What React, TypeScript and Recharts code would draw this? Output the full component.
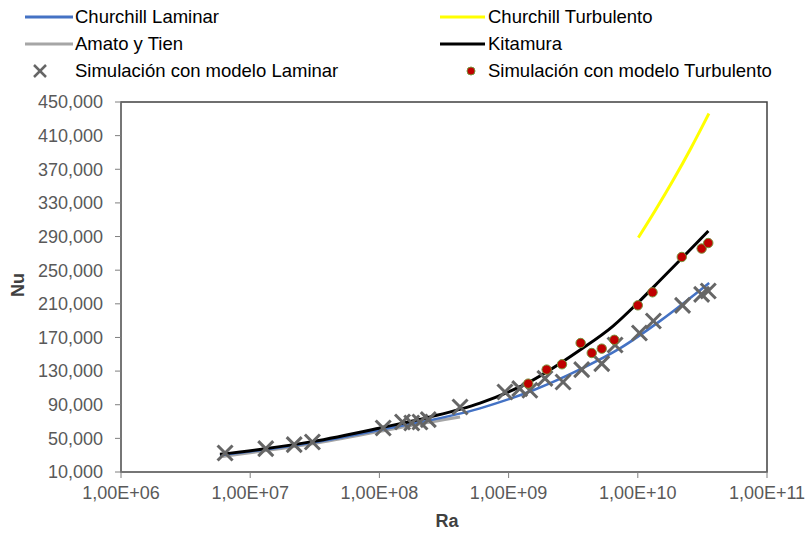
import React from 'react';
import { ComposedChart, Line, Scatter, XAxis, YAxis, ReferenceArea } from 'recharts';

// Simulación con modelo Laminar
const laminarRa = [6.39e6, 1.32e7, 2.19e7, 3.03e7, 1.07e8, 1.51e8, 1.78e8, 2.06e8, 2.39e8, 4.21e8, 9.37e8, 1.22e9, 1.46e9, 1.91e9, 2.64e9, 3.68e9, 5.26e9, 6.67e9, 1.03e10, 1.32e10, 2.22e10, 3.12e10, 3.51e10];
const laminarNu = [32600, 37800, 42600, 45700, 62300, 69500, 68300, 69500, 72300, 87300, 105100, 109200, 107200, 121400, 117000, 131800, 138900, 161000, 175300, 189600, 208200, 221300, 225200];

// Simulación con modelo Turbulento
const turbRa = [1.42e9, 1.97e9, 2.59e9, 3.61e9, 4.4e9, 5.26e9, 6.58e9, 1.0e10, 1.3e10, 2.19e10, 3.12e10, 3.51e10];
const turbNu = [115100, 131800, 138100, 163400, 151500, 156700, 167200, 208200, 223700, 265700, 275700, 282300];

// Kitamura
const kitRa = [5.83e6, 1.3e7, 3.01e7, 1.07e8, 2.47e8, 6.01e8, 1.47e9, 3.57e9, 6.43e9, 9.98e9, 1.49e10, 2.25e10, 3.52e10];
const kitNu = [31000, 37600, 46100, 63200, 75500, 92000, 117500, 155000, 183500, 211000, 238000, 266000, 296600];

// Churchill Laminar
const chLamRa = [5.83e6, 3.01e7, 1.07e8, 6.01e8, 1.55e9, 3.57e9, 7.27e9, 1.5e10, 3.57e10];
const chLamNu = [29900, 44700, 60800, 85700, 107200, 132000, 157000, 190000, 234800];

// Amato y Tien
const amatoRa = [6.09e6, 3.01e7, 1.07e8, 2.06e8, 4.21e8];
const amatoNu = [28500, 43500, 59000, 67300, 75400];

// Churchill Turbulento
const chTurbRa = [1.01e10, 1.36e10, 1.88e10, 2.57e10, 3.55e10];
const chTurbNu = [288700, 320600, 357200, 394800, 436300];

const xTicks = [1e6, 1e7, 1e8, 1e9, 1e10, 1e11];
const yTicks = [10000, 50000, 90000, 130000, 170000, 210000, 250000, 290000, 330000, 370000, 410000, 450000];

const toPts = (xs: number[], ys: number[]) => xs.map((x, i) => ({ x, y: ys[i] }));

const FONT = '"Liberation Sans", Arial, sans-serif';
const TXT = '#595959';

const fmtX = (v: number) => {
  const e = Math.round(Math.log10(v));
  return `1,00E+${e < 10 ? '0' + e : e}`;
};
const fmtY = (v: number) => v.toLocaleString('en-US');

const XShape = (props: any) => {
  const { cx, cy } = props;
  if (cx == null || cy == null) return null;
  const s = 7.5;
  return (
    <g>
      <line x1={cx - s} y1={cy - s} x2={cx + s} y2={cy + s} stroke="#666" strokeWidth={3} />
      <line x1={cx - s} y1={cy + s} x2={cx + s} y2={cy - s} stroke="#666" strokeWidth={3} />
    </g>
  );
};

const DotShape = (props: any) => {
  const { cx, cy } = props;
  if (cx == null || cy == null) return null;
  return <circle cx={cx} cy={cy} r={4.7} fill="#c00000" stroke="#77933c" strokeWidth={1} />;
};

const legendText: React.CSSProperties = {
  position: 'absolute',
  fontFamily: FONT,
  fontSize: 18.5,
  color: '#000',
  lineHeight: '20px',
  whiteSpace: 'nowrap',
};

export default function App() {
  return (
    <div style={{ position: 'absolute', left: 0, top: 0, width: 806, height: 537, background: '#fff' }}>
      <ComposedChart width={806} height={537} margin={{ top: 102, right: 39, bottom: 0, left: 0 }}>
        <XAxis
          type="number"
          dataKey="x"
          scale="log"
          domain={[1e6, 1e11]}
          ticks={xTicks}
          allowDataOverflow
          tickFormatter={fmtX}
          height={65}
          tickSize={6}
          tickMargin={8}
          axisLine={{ stroke: '#7f7f7f' }}
          tickLine={{ stroke: '#7f7f7f' }}
          tick={{ fill: TXT, fontSize: 18, fontFamily: FONT }}
          interval={0}
        />
        <YAxis
          type="number"
          dataKey="y"
          domain={[10000, 450000]}
          ticks={yTicks}
          allowDataOverflow
          tickFormatter={fmtY}
          width={121}
          tickSize={6}
          tickMargin={12}
          axisLine={{ stroke: '#7f7f7f' }}
          tickLine={{ stroke: '#7f7f7f' }}
          tick={{ fill: TXT, fontSize: 18, fontFamily: FONT }}
          interval={0}
        />
        <ReferenceArea x1={1e6} x2={1e11} y1={10000} y2={450000} fill="none" stroke="#404040" strokeWidth={1.5} />
        <Line data={toPts(amatoRa, amatoNu)} dataKey="y" type="monotone" stroke="#a6a6a6" strokeWidth={3} dot={false} isAnimationActive={false} />
        <Line data={toPts(chLamRa, chLamNu)} dataKey="y" type="monotone" stroke="#4472c4" strokeWidth={2.5} dot={false} isAnimationActive={false} />
        <Line data={toPts(chTurbRa, chTurbNu)} dataKey="y" type="monotone" stroke="#ffff00" strokeWidth={3} dot={false} isAnimationActive={false} />
        <Line data={toPts(kitRa, kitNu)} dataKey="y" type="monotone" stroke="#000" strokeWidth={3} dot={false} isAnimationActive={false} />
        <Scatter data={toPts(laminarRa, laminarNu)} dataKey="y" shape={XShape} isAnimationActive={false} />
        <Scatter data={toPts(turbRa, turbNu)} dataKey="y" shape={DotShape} isAnimationActive={false} />
      </ComposedChart>

      {/* Legend */}
      <svg width={806} height={90} style={{ position: 'absolute', left: 0, top: 0 }}>
        <line x1={25} y1={17} x2={73} y2={17} stroke="#4472c4" strokeWidth={3} />
        <line x1={440} y1={17} x2={485} y2={17} stroke="#ffff00" strokeWidth={3} />
        <line x1={25} y1={44} x2={73} y2={44} stroke="#a6a6a6" strokeWidth={3} />
        <line x1={440} y1={44} x2={485} y2={44} stroke="#000" strokeWidth={3} />
        <line x1={34} y1={65} x2={46} y2={77} stroke="#666" strokeWidth={2.5} />
        <line x1={34} y1={77} x2={46} y2={65} stroke="#666" strokeWidth={2.5} />
        <circle cx={471} cy={71} r={4} fill="#c00000" stroke="#77933c" strokeWidth={1} />
      </svg>
      <div style={{ ...legendText, left: 75, top: 7 }}>Churchill Laminar</div>
      <div style={{ ...legendText, left: 488, top: 7 }}>Churchill Turbulento</div>
      <div style={{ ...legendText, left: 75, top: 34 }}>Amato y Tien</div>
      <div style={{ ...legendText, left: 488, top: 34 }}>Kitamura</div>
      <div style={{ ...legendText, left: 75, top: 61 }}>Simulación con modelo Laminar</div>
      <div style={{ ...legendText, left: 488, top: 61 }}>Simulación con modelo Turbulento</div>

      {/* Axis titles */}
      <div
        style={{
          position: 'absolute',
          left: 18,
          top: 285,
          transform: 'translate(-50%, -50%) rotate(-90deg)',
          fontFamily: FONT,
          fontSize: 18,
          fontWeight: 'bold',
          color: '#404040',
        }}
      >
        Nu
      </div>
      <div
        style={{
          position: 'absolute',
          left: 447,
          top: 521,
          transform: 'translate(-50%, -50%)',
          fontFamily: FONT,
          fontSize: 18,
          fontWeight: 'bold',
          color: '#404040',
        }}
      >
        Ra
      </div>
    </div>
  );
}
